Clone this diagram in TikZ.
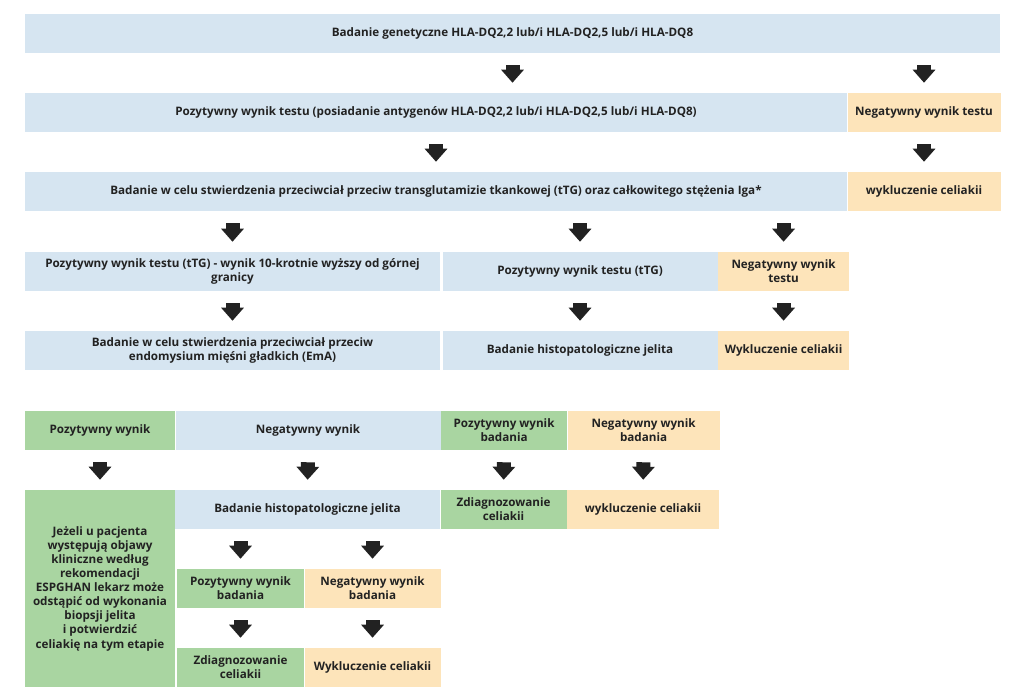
\documentclass[tikz,border=0pt]{standalone}
\usepackage{fontspec}
\setmainfont{Open Sans}
\usepackage{xcolor}
\usetikzlibrary{positioning}
\usetikzlibrary{arrows.meta}
\definecolor{boxblue}{HTML}{D6E5F1}
\definecolor{boxorange}{HTML}{FDE4BA}
\definecolor{boxgreen}{HTML}{A9D5A1}
\definecolor{arrowdark}{HTML}{222222}
\definecolor{textdark}{HTML}{222222}

\begin{document}
\begin{tikzpicture}[x=0.75pt, y=-0.75pt,
    box/.style={align=center, inner sep=0pt, minimum height=29.25pt, font=\bfseries\fontsize{8.75}{10.6}\selectfont, text=textdark},
    bluebox/.style={box, fill=boxblue},
    orangebox/.style={box, fill=boxorange},
    greenbox/.style={box, fill=boxgreen},
    downarrow/.style={draw=arrowdark, line width=10.5pt, -{Triangle[width=16.5pt, length=9.75pt]}, shorten <=9pt, shorten >=7.5pt}]
            \path[fill=white, use as bounding box] (0,0) rectangle (1024,699);
            \node[bluebox, minimum width=731.25pt] (gen_test) at (512.5,33.5) {Badanie genetyczne HLA-DQ2,2 lub/i HLA-DQ2,5 lub/i HLA-DQ8};
            \node[bluebox, minimum width=616.5pt] (pos_test) at (436,112.5) {Pozytywny wynik testu (posiadanie antygenów HLA-DQ2,2 lub/i HLA-DQ2,5 lub/i HLA-DQ8)};
            \node[orangebox, minimum width=114.75pt, right=0pt of pos_test] (neg_test) {Negatywny wynik testu};
            \node[bluebox, minimum width=616.5pt] (ttg_test) at (436,191.5) {Badanie w celu stwierdzenia przeciwciał przeciw transglutamizie tkankowej (tTG) oraz całkowitego stężenia Iga*};
            \node[orangebox, minimum width=114.75pt, right=0pt of ttg_test] (excl_hla) {wykluczenie celiakii};
            \node[bluebox, minimum width=311.25pt] (ttg_high) at (232.5,271.5) {Pozytywny wynik testu (tTG) - wynik 10-krotnie wyższy od górnej\\granicy};
            \node[bluebox, minimum width=206.25pt, right=1.5pt of ttg_high] (ttg_pos) {Pozytywny wynik testu (tTG)};
            \node[orangebox, minimum width=98.25pt, right=0pt of ttg_pos] (ttg_neg) {Negatywny wynik\\testu};
            \node[bluebox, minimum width=311.25pt] (ema_test) at (232.5,350.5) {Badanie w celu stwierdzenia przeciwciał przeciw\\endomysium mięśni gładkich (EmA)};
            \node[bluebox, minimum width=206.25pt, right=1.5pt of ema_test] (histo_a) {Badanie histopatologiczne jelita};
            \node[orangebox, minimum width=98.25pt, right=0pt of histo_a] (excl_ttg) {Wykluczenie celiakii};
            \node[greenbox, minimum width=112.5pt] (ema_pos) at (100,430.5) {Pozytywny wynik};
            \node[bluebox, minimum width=198.75pt, right=0pt of ema_pos] (ema_neg) {Negatywny wynik};
            \node[greenbox, minimum width=94.5pt, right=0pt of ema_neg] (histo_a_pos) {Pozytywny wynik\\badania};
            \node[orangebox, minimum width=114pt, right=0pt of histo_a_pos] (histo_a_neg) {Negatywny wynik\\badania};
            \node[greenbox, minimum width=112.5pt, minimum height=147.75pt] (espghan) at (100,588.5) {Jeżeli u pacjenta\\występują objawy\\kliniczne według\\rekomendacji\\ESPGHAN lekarz może\\odstąpić od wykonania\\biopsji jelita\\i potwierdzić\\celiakię na tym etapie};
            \node[bluebox, minimum width=198.75pt] (histo_b) at (307.5,509.5) {Badanie histopatologiczne jelita};
            \node[greenbox, minimum width=94.5pt, right=0pt of histo_b] (diag_a) {Zdiagnozowanie\\celiakii};
            \node[orangebox, minimum width=114pt, right=0pt of diag_a] (excl_a) {wykluczenie celiakii};
            \node[greenbox, minimum width=95.25pt] (histo_b_pos) at (240.5,588.5) {Pozytywny wynik\\badania};
            \node[orangebox, minimum width=102pt, right=0pt of histo_b_pos] (histo_b_neg) {Negatywny wynik\\badania};
            \node[greenbox, minimum width=95.25pt] (diag_b) at (240.5,667.5) {Zdiagnozowanie\\celiakii};
            \node[orangebox, minimum width=102pt, right=0pt of diag_b] (excl_b) {Wykluczenie celiakii};
            \draw[downarrow] (gen_test.south) -- (gen_test.south |- pos_test.north);
            \draw[downarrow] (gen_test.south -| neg_test.north) -- (neg_test.north);
            \draw[downarrow] (pos_test.south) -- (ttg_test.north);
            \draw[downarrow] (neg_test.south) -- (excl_hla.north);
            \draw[downarrow] (ttg_test.south -| ttg_high.north) -- (ttg_high.north);
            \draw[downarrow] (ttg_test.south -| ttg_pos.north) -- (ttg_pos.north);
            \draw[downarrow] (ttg_test.south -| ttg_neg.north) -- (ttg_neg.north);
            \draw[downarrow] (ttg_high.south) -- (ema_test.north);
            \draw[downarrow] (ttg_pos.south) -- (histo_a.north);
            \draw[downarrow] (ttg_neg.south) -- (excl_ttg.north);
            \draw[downarrow] (ema_pos.south) -- (espghan.north);
            \draw[downarrow] (ema_neg.south) -- (histo_b.north);
            \draw[downarrow] (histo_a_pos.south) -- (diag_a.north);
            \draw[downarrow] (histo_a_neg.south) -- (excl_a.north);
            \draw[downarrow] (histo_b.south -| histo_b_pos.north) -- (histo_b_pos.north);
            \draw[downarrow] (histo_b.south -| histo_b_neg.north) -- (histo_b_neg.north);
            \draw[downarrow] (histo_b_pos.south) -- (diag_b.north);
            \draw[downarrow] (histo_b_neg.south) -- (excl_b.north);
        \end{tikzpicture}
\end{document}
